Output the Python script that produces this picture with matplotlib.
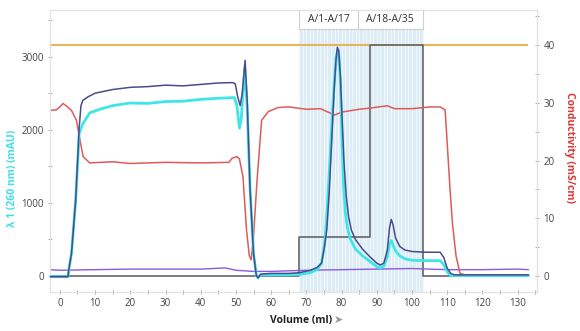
import matplotlib
matplotlib.use("Agg")
import matplotlib.pyplot as plt
from matplotlib.patches import Rectangle
from matplotlib.ticker import MultipleLocator

plt.rcParams['font.family'] = ['Open Sans', 'DejaVu Sans']

# UV 260 nm (cyan), mAU
uv1_x = [-3, 2.3, 2.6, 3.3, 4.5, 5.5, 6.5, 8.5, 11.4, 15, 20, 25, 30, 35, 40, 45, 49.5,
         50.2, 51.0, 51.5, 52.5, 53.2, 54, 55, 55.8, 56.3, 57, 65, 68, 71, 73, 74.3,
         75.2, 75.9, 76.6, 77.3, 78, 78.5, 78.9, 79.3, 79.7, 80.1, 80.6, 81.1, 81.7,
         82.5, 84, 86, 88, 90, 91, 92, 93, 93.6, 94.1, 94.6, 95.3, 96.5, 98, 100, 104,
         108, 109, 110, 111, 133]
uv1_y = [-15, -15, 100, 300, 1040, 1950, 2080, 2230, 2280, 2330, 2365, 2360, 2385, 2390,
         2415, 2430, 2440, 2350, 2020, 2150, 2850, 2300, 1200, 300, 0, -30, 10, 10, 15,
         40, 80, 170, 450, 900, 1500, 2150, 2700, 3000, 3090, 3000, 2600, 1900, 1200,
         850, 640, 500, 360, 270, 195, 125, 105, 130, 260, 430, 480, 420, 340, 270, 230,
         210, 205, 205, 150, 50, 0, 0]

# second UV trace (navy), mAU
uv2_x = [-3, 2.3, 2.6, 3.3, 4.5, 5.5, 6.0, 6.5, 8, 10, 15, 20, 25, 30, 35, 40, 45, 49,
         49.8, 50.5, 51.2, 51.8, 52.6, 53.2, 54, 55, 55.8, 56.3, 57, 60, 65, 68, 71, 73,
         74.3, 75, 75.8, 76.5, 77.2, 77.9, 78.4, 78.8, 79.2, 79.7, 80.2, 80.7, 81.3,
         82, 82.8, 84, 86, 88, 90, 91, 92, 93, 93.6, 94.1, 94.6, 95.3, 96.5, 98, 100,
         104, 108, 109, 110, 111, 112, 120, 133]
uv2_y = [-15, -15, 100, 300, 1040, 2040, 2330, 2400, 2450, 2500, 2550, 2580, 2590, 2610,
         2600, 2620, 2640, 2645, 2630, 2450, 2330, 2500, 2950, 2400, 1200, 300, 0, -30,
         20, 30, 30, 40, 70, 110, 170, 350, 625, 1150, 1850, 2550, 2950, 3130, 3080,
         2700, 2100, 1550, 1100, 800, 620, 490, 360, 260, 170, 145, 170, 350, 650, 770,
         700, 520, 400, 350, 330, 320, 320, 250, 100, 30, 10, 10, 10]

# conductivity, mS/cm
cond_x = [-3, -1, 0, 0.9, 1.8, 3.3, 4.7, 5.7, 6.6, 8.5, 15, 20, 30, 40, 48, 48.9, 50.3,
          51, 52, 53, 53.8, 54.3, 54.9, 56, 57.3, 59.2, 62, 65, 70, 74, 78, 80, 85, 88,
          93, 95, 100, 105, 108, 109.4, 110.3, 110.8, 111.5, 112.5, 113.6, 115, 133]
cond_y = [28.7, 28.8, 29.3, 29.9, 29.5, 28.7, 27, 23.6, 20.7, 19.6, 19.8, 19.5, 19.7, 19.6,
          19.7, 20.4, 20.7, 20.3, 17.2, 8, 3.5, 2.8, 6, 16.6, 27, 28.5, 29.2, 29.3, 28.9,
          29.0, 27.9, 28.4, 28.9, 29.1, 29.5, 29.0, 29.0, 29.3, 29.3, 28.8, 20, 15, 9,
          3.5, 0.5, 0.2, 0.2]

# purple trace (right axis)
purple_x = [-3, 0, 10, 20, 30, 40, 47, 50, 55, 60, 65, 70, 80, 90, 100, 110, 120, 130, 133]
purple_y = [1.1, 1.0, 1.1, 1.2, 1.2, 1.2, 1.4, 1.0, 0.8, 0.8, 0.9, 1.0, 1.1, 1.2, 1.3,
            1.1, 1.1, 1.2, 1.1]

# gradient / step (right axis)
step_x = [-3, 68, 88, 103, 133]
step_y = [0, 6.8, 40, 0, 0]

conc_level = 40
frac_start, frac_end = 68, 103
frac_labels = ["A/1-A/17", "A/18-A/35"]
frac_label_edges = [68, 84.7, 103]

fig = plt.figure(figsize=(5.8, 3.31), dpi=100)
ax = fig.add_axes([0.0862, 0.1178, 0.8397, 0.852])
ax2 = ax.twinx()

# fractions shading
for i in range(frac_end - frac_start):
    ax2.axvspan(frac_start + i, frac_start + i + 1, facecolor="#dcedf6",
                edgecolor="#f4f9fc", linewidth=0.6, zorder=0)

ax2.axhline(conc_level, xmin=0, xmax=(132.7 + 2.8) / 138.3, color="#e9ae45", lw=1.3, zorder=1)
ax2.plot(step_x, step_y, drawstyle="steps-post", color="#666666", lw=1.2, zorder=2)
ax2.plot(purple_x, purple_y, color="#8a5be0", lw=1.0, zorder=2)
ax2.plot(cond_x, cond_y, color="#e05a5a", lw=1.1, zorder=3)

ax.plot(uv1_x, uv1_y, color="#3fe6e8", lw=2.0, zorder=3)
ax.plot(uv2_x, uv2_y, color="#4a4a8e", lw=1.1, zorder=4)
ax.set_zorder(ax2.get_zorder() + 1)
ax.patch.set_visible(False)

ax.set_xlim(-2.8, 135.5)
ax.set_ylim(-225, 3640)
ax2.set_ylim(-2.77, 46.1)

# fraction label boxes
for lab, x0, x1 in zip(frac_labels, frac_label_edges[:-1], frac_label_edges[1:]):
    ax2.add_patch(Rectangle((x0, 42.8), x1 - x0, 46.1 - 42.8, facecolor="white",
                            edgecolor="#d0d0d0", lw=0.8, zorder=5, clip_on=False))
    ax2.text((x0 + x1) / 2, 44.45, lab, ha="center", va="center", fontsize=7.5,
             color="#333333", zorder=6)

ax.xaxis.set_major_locator(MultipleLocator(10))
ax.xaxis.set_minor_locator(MultipleLocator(5))
ax.yaxis.set_major_locator(MultipleLocator(1000))
ax.yaxis.set_minor_locator(MultipleLocator(500))
ax2.yaxis.set_major_locator(MultipleLocator(10))
ax2.yaxis.set_minor_locator(MultipleLocator(5))

for a in (ax, ax2):
    for s in a.spines.values():
        s.set_color("#e2e2e2")
        s.set_linewidth(0.8)
    a.tick_params(which="both", direction="inout", length=3, width=0.7, color="#aaaaaa",
                  labelsize=7, labelcolor="#444444", pad=3)

ax.set_ylabel("λ 1 (260 nm) (mAU)", color="#3fe0e6", fontsize=7.5, fontweight="bold")
ax.yaxis.set_label_coords(-0.066, 0.404)
ax2.set_ylabel("Conductivity (mS/cm)", color="#e03535", fontsize=7.5, fontweight="bold",
               rotation=270, va="center")
ax2.yaxis.set_label_coords(1.066, 0.514)

ax.text(0.515, -0.10, "Volume (ml)", transform=ax.transAxes, ha="center", va="center",
        fontsize=7.5, fontweight="bold", color="#222222")
ax.text(0.592, -0.10, "➤", transform=ax.transAxes, ha="center", va="center",
        fontsize=8, color="#999999")

fig.savefig("out.png", dpi=100)
